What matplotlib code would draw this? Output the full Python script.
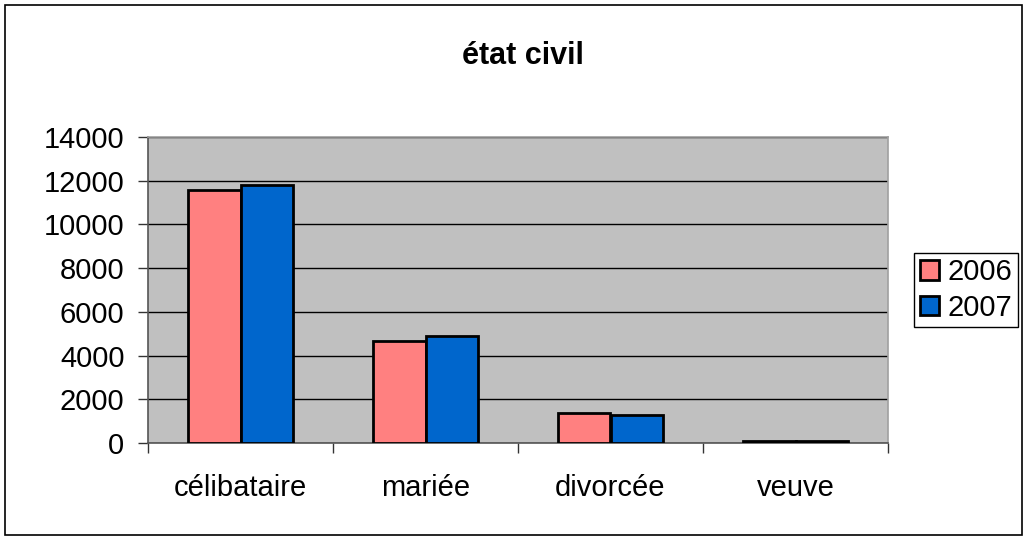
import numpy as np
import matplotlib.pyplot as plt
from matplotlib.patches import Rectangle

plt.rcParams['font.family'] = ['Liberation Sans', 'DejaVu Sans']

categories = ['célibataire', 'mariée', 'divorcée', 'veuve']
years = ['2006', '2007']
v2006 = [11560, 4650, 1370, 90]
v2007 = [11820, 4880, 1270, 80]

colors = ['#FF8080', '#0066CC']

fig = plt.figure(figsize=(10.28, 5.39), dpi=100)
ax = fig.add_axes([148/1028, 1 - 443/539, 740/1028, 306/539])
ax.set_facecolor('#C0C0C0')

x = np.arange(len(categories))
w = 0.286
b1 = ax.bar(x - w/2, v2006, w, color=colors[0], edgecolor='black', linewidth=2, zorder=3)
b2 = ax.bar(x + w/2, v2007, w, color=colors[1], edgecolor='black', linewidth=2, zorder=3)

ax.set_ylim(0, 14000)
ax.set_xlim(-0.5, 3.5)
ax.set_yticks(np.arange(0, 14001, 2000))
ax.yaxis.grid(True, color='black', linewidth=1, zorder=1)
ax.set_axisbelow(True)

ax.set_xticks(x)
ax.set_xticklabels(categories)
ax.set_xticks(np.arange(-0.5, 4, 1), minor=True)
ax.tick_params(axis='x', which='major', length=0, pad=22, labelsize=21)
ax.tick_params(axis='x', which='minor', length=7, width=1, direction='out', color='#333333')
ax.tick_params(axis='y', length=7, width=1, direction='out', color='#333333', labelsize=21, pad=10)

for s in ['left', 'bottom']:
    ax.spines[s].set_color('#555555')
    ax.spines[s].set_linewidth(1.2)
for s in ['top', 'right']:
    ax.spines[s].set_color('#A0A0A0')
    ax.spines[s].set_linewidth(1.2)

fig.text(523/1028, 1 - 64/539, 'état civil', ha='center', va='baseline',
         fontsize=22, fontweight='bold')

leg = fig.legend([b1[0], b2[0]], years, loc='center',
                 bbox_to_anchor=(966/1028, 1 - 290/539), fontsize=21,
                 fancybox=False, framealpha=1, edgecolor='black',
                 handlelength=0.65, handleheight=0.65, handletextpad=0.3,
                 borderpad=0.2, labelspacing=0.25, borderaxespad=0)
leg.get_frame().set_linewidth(1)

fig.patches.append(Rectangle((5/1028, 4/539), 1017/1028, 530/539,
                             transform=fig.transFigure, fill=False,
                             edgecolor='black', linewidth=1.2))

fig.savefig('out.png', dpi=100)
